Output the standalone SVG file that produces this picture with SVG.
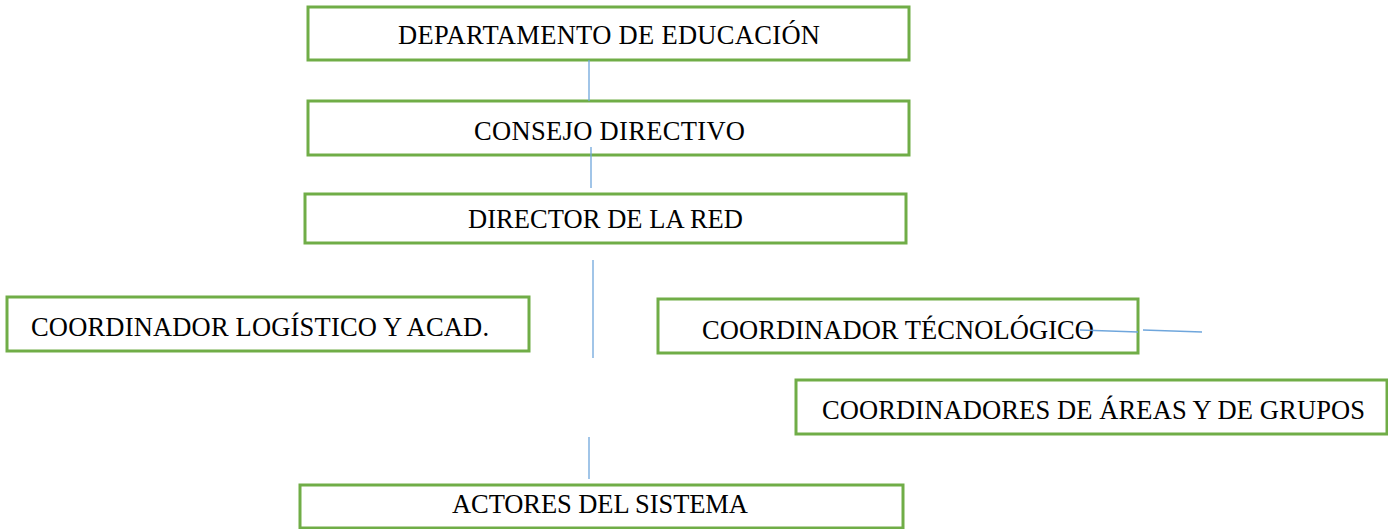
<svg xmlns="http://www.w3.org/2000/svg" width="1388" height="529" viewBox="0 0 1388 529">
<style>
.box{fill:#fff;stroke:#70AD47;stroke-width:3}
.t{font-family:"Liberation Serif","Times New Roman",serif;font-size:26.5px;fill:#000}
.c{stroke:#6FA6DC;stroke-width:1.3;fill:none}
</style>
<rect width="1388" height="529" fill="#fff"/>
<g id="n1"><rect class="box" x="308" y="7" width="601" height="53"/><text class="t" x="398" y="44" textLength="422">DEPARTAMENTO DE EDUCACIÓN</text></g>
<g id="n2"><rect class="box" x="308" y="101" width="601" height="54"/><text class="t" x="474" y="140" textLength="271">CONSEJO DIRECTIVO</text></g>
<g id="n3"><rect class="box" x="305" y="194" width="601" height="49"/><text class="t" x="468" y="228" textLength="275">DIRECTOR DE LA RED</text></g>
<g id="n4"><rect class="box" x="7" y="297" width="522" height="54"/><text class="t" x="31" y="336" textLength="458">COORDINADOR LOGÍSTICO Y ACAD.</text></g>
<g id="n5"><rect class="box" x="658" y="299" width="480" height="54"/><text class="t" x="702" y="339" textLength="392">COORDINADOR TÉCNOLÓGICO</text></g>
<g id="n6"><rect class="box" x="796" y="380" width="591" height="54"/><text class="t" x="822" y="419" textLength="543">COORDINADORES DE ÁREAS Y DE GRUPOS</text></g>
<g id="n7"><rect class="box" x="300" y="485" width="603" height="43"/><text class="t" x="452" y="513" textLength="296">ACTORES DEL SISTEMA</text></g>
<g id="connectors">
<line class="c" x1="589" y1="60" x2="589" y2="101"/>
<line class="c" x1="591" y1="147" x2="591" y2="188"/>
<line class="c" x1="593" y1="260" x2="593" y2="358"/>
<line class="c" x1="589" y1="437" x2="589" y2="479"/>
<line class="c" x1="1080" y1="330" x2="1138" y2="332"/>
<line class="c" x1="1143" y1="330" x2="1202" y2="332"/>
</g>
</svg>
